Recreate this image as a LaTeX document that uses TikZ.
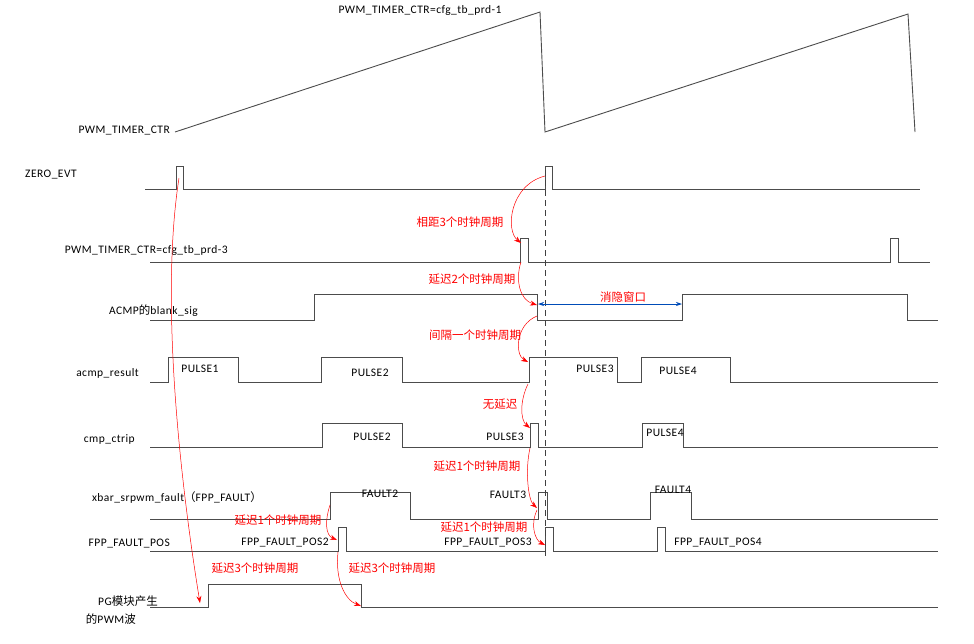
\documentclass[tikz,border=0pt]{standalone}
\usepackage{fontspec}
\setmainfont{Carlito}[LetterSpace=4]
\newfontfamily\cjk{Noto Sans CJK SC}
\usetikzlibrary{arrows.meta}
\begin{document}
\begin{tikzpicture}[x=1pt,y=-1pt,
  sig/.style={draw=black!70,line width=1pt},
  lab/.style={font=\fontsize{11.5}{12}\selectfont,inner sep=0pt},
  rl/.style={font=\cjk\fontsize{11.5}{12}\selectfont,text=red,inner sep=0pt},
  rarr/.style={draw=red,line width=0.5pt,-{Stealth[length=7pt,width=5pt]}}]
\useasboundingbox[fill=white] (0,0) rectangle (974,643);
% sawtooth
\draw[sig,line width=0.9pt] (175,132) -- (540,12) -- (545,132) -- (908,14) -- (915,132);
\node[lab,anchor=south] (top) at (420,16) {PWM\_TIMER\_CTR=cfg\_tb\_prd-1};
\node[lab,anchor=east] (l1) at (170,131) {PWM\_TIMER\_CTR};
% ZERO_EVT
\draw[sig] (145,189) -- (176,189) -- (176,166) -- (183,166) -- (183,189) -- (545,189) -- (545,166) -- (552,166) -- (552,189) -- (920,189);
\node[lab,anchor=west] (l2) at (25,175) {ZERO\_EVT};
% prd-3
\draw[sig] (150,262) -- (520,262) -- (520,238) -- (528,238) -- (528,262) -- (890,262) -- (890,238) -- (898,238) -- (898,262) -- (930,262);
\node[lab,anchor=east] (l3) at (228,250) {PWM\_TIMER\_CTR=cfg\_tb\_prd-3};
% blank
\draw[sig] (150,320) -- (314,320) -- (314,294) -- (537,294) -- (537,320) -- (682,320) -- (682,294) -- (907,294) -- (907,320) -- (938,320);
\node[lab,anchor=east] (l4) at (198,311) {ACMP{\cjk 的}blank\_sig};
% acmp_result
\draw[sig] (150,382) -- (168,382) -- (168,357) -- (238,357) -- (238,382) -- (321,382) -- (321,357) -- (402,357) -- (402,382) -- (529,382) -- (529,357) -- (617,357) -- (617,382) -- (641,382) -- (641,357) -- (730,357) -- (730,382) -- (938,382);
\node[lab,anchor=east] (l5) at (139,373) {acmp\_result};
\node[lab] (p1) at (200,369) {PULSE1};
\node[lab] (p2) at (370,373) {PULSE2};
\node[lab] (p3) at (595,369) {PULSE3};
\node[lab] (p4) at (678,371) {PULSE4};
% cmp_ctrip
\draw[sig] (150,447) -- (322,447) -- (322,423) -- (402,423) -- (402,447) -- (530,447) -- (530,423) -- (538,423) -- (538,447) -- (642,447) -- (642,423) -- (683,423) -- (683,447) -- (938,447);
\node[lab,anchor=east] (l6) at (135,439) {cmp\_ctrip};
\node[lab] (c2) at (372,437) {PULSE2};
\node[lab] (c3) at (505,437) {PULSE3};
\node[lab] (c4) at (665,433) {PULSE4};
% xbar
\draw[sig] (150,519) -- (330,519) -- (330,492) -- (410,492) -- (410,519) -- (538,519) -- (538,492) -- (547,492) -- (547,519) -- (650,519) -- (650,492) -- (691,492) -- (691,519) -- (938,519);
\node[lab,anchor=east] (l7) at (262,497) {xbar\_srpwm\_fault{\cjk （}FPP\_FAULT{\cjk ）}};
\node[lab] (f2) at (380,494) {FAULT2};
\node[lab] (f3) at (508,495) {FAULT3};
\node[lab] (f4) at (673,490) {FAULT4};
% FPP_FAULT_POS
\draw[sig] (150,551) -- (338,551) -- (338,527) -- (346,527) -- (346,551) -- (545,551) -- (545,527) -- (553,527) -- (553,551) -- (657,551) -- (657,527) -- (665,527) -- (665,551) -- (938,551);
\node[lab,anchor=east] (l8) at (170,544) {FPP\_FAULT\_POS};
\node[lab] (q2) at (285,543) {FPP\_FAULT\_POS2};
\node[lab] (q3) at (488,543) {FPP\_FAULT\_POS3};
\node[lab] (q4) at (718,543) {FPP\_FAULT\_POS4};
% PG
\draw[sig] (150,607) -- (208,607) -- (208,584) -- (361,584) -- (361,607) -- (938,607);
\node[lab,anchor=east] (l9a) at (158,601) {PG{\cjk 模块产生}};
\node[lab,anchor=east] (l9b) at (136,619) {{\cjk 的}PWM{\cjk 波}};
% dashed line
\draw[black!75,line width=1pt,dash pattern=on 6pt off 4pt] (545,170) coordinate (d1) -- (545,556) coordinate (d2);
% blue window
\coordinate (w1) at (538,304); \coordinate (w2) at (682,304);
\draw[{Stealth[length=6pt,width=4pt]}-{Stealth[length=6pt,width=4pt]},draw=blue!60!black!70!cyan,line width=0.7pt] (w1) -- (w2);
\node[rl] (win) at (623,297) {消隐窗口};
% red arrows
\coordinate (a1) at (545,176); \coordinate (b1) at (521,243);
\draw[rarr] (a1) .. controls (510,185) and (505,230) .. (b1);
\node[rl] (t1) at (460,222) {相距3个时钟周期};
\coordinate (a2) at (521,262); \coordinate (b2) at (537,305);
\draw[rarr] (a2) .. controls (515,280) and (520,300) .. (b2);
\node[rl] (t2) at (472,279) {延迟2个时钟周期};
\coordinate (a3) at (537,316); \coordinate (b3) at (528,362);
\draw[rarr] (a3) .. controls (515,325) and (515,355) .. (b3);
\node[rl] (t3) at (475,335) {间隔一个时钟周期};
\coordinate (a4) at (528,384); \coordinate (b4) at (530,428);
\draw[rarr] (a4) .. controls (520,400) and (520,420) .. (b4);
\node[rl] (t4) at (500,404) {无延迟};
\coordinate (a5) at (530,448); \coordinate (b5) at (537,508);
\draw[rarr] (a5) .. controls (525,470) and (528,500) .. (b5);
\node[rl] (t5) at (477,466) {延迟1个时钟周期};
\coordinate (a6) at (537,510); \coordinate (b6) at (545,545);
\draw[rarr] (a6) .. controls (530,525) and (535,540) .. (b6);
\node[rl] (t6) at (484,527) {延迟1个时钟周期};
\coordinate (a7) at (330,505); \coordinate (b7) at (337,540);
\draw[rarr] (a7) .. controls (325,520) and (325,535) .. (b7);
\node[rl] (t7) at (278,520) {延迟1个时钟周期};
\coordinate (a8) at (338,552); \coordinate (b8) at (361,606);
\draw[rarr] (a8) .. controls (335,580) and (345,600) .. (b8);
\node[rl] (t8) at (392,568) {延迟3个时钟周期};
\coordinate (a9) at (179,178); \coordinate (b9) at (200,603);
\draw[rarr] (a9) .. controls (160,300) and (180,480) .. (b9);
\node[rl] (t9) at (255,568) {延迟3个时钟周期};
\end{tikzpicture}
\end{document}
